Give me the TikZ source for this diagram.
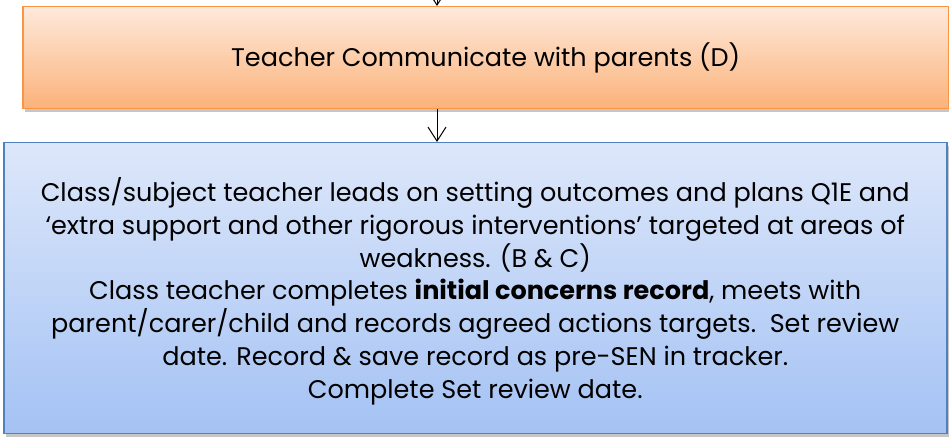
\documentclass[tikz,border=0pt]{standalone}
\usepackage{fontspec}
\setmainfont{Poppins}
\usetikzlibrary{arrows.meta,shadows}
\definecolor{orTop}{HTML}{FEE9DB}
\definecolor{orBot}{HTML}{FBB27A}
\definecolor{orLine}{HTML}{F79646}
\definecolor{blTop}{HTML}{DDE7FA}
\definecolor{blBot}{HTML}{A4C2F4}
\definecolor{blLine}{HTML}{4F81BD}
\tikzset{
  x=1pt,y=1pt,
  orbox/.style={draw=orLine, line width=1.5pt, top color=orTop, bottom color=orBot,
    drop shadow={shadow xshift=2pt, shadow yshift=-3pt, opacity=0.45}},
  blbox/.style={draw=blLine, line width=1.5pt, top color=blTop, bottom color=blBot,
    drop shadow={shadow xshift=2pt, shadow yshift=-3pt, opacity=0.45}},
  flow/.style={-{Straight Barb[length=14pt,width=18pt]}, line width=1pt, black},
  txt/.style={font=\fontsize{25.5}{32.8}\selectfont, align=center, text=black}
}
\begin{document}
\begin{tikzpicture}
\useasboundingbox (0,0) rectangle (949,441);
\begin{scope}
\clip (0,0) rectangle (949,441);
\node[orbox, minimum width=926pt, minimum height=102pt, inner sep=0pt, anchor=north west] (o) at (22,435) {};
\node[txt] (ot) at (o.center) {Teacher Communicate with parents (D)};
\node[blbox, minimum width=943pt, minimum height=291pt, inner sep=0pt, anchor=north west] (b) at (3,299) {};
\node[txt] (bt) at ([yshift=-3pt]b.center) {Class/subject teacher leads on setting outcomes and plans Q1E and\\
‘extra support and other rigorous interventions’ targeted at areas of\\
weakness. (B \& C)\\
Class teacher completes \textbf{initial concerns record}, meets with\\
parent/carer/child and records agreed actions targets.\ \ Set review\\
date. Record \& save record as pre-SEN in tracker.\\
Complete Set review date.};
\coordinate (top) at (437,452);
\draw[flow] (top) -- (o.north -| top);
\draw[flow] (o.south -| 437,0) -- (b.north -| 437,0);
\end{scope}
\end{tikzpicture}
\end{document}
